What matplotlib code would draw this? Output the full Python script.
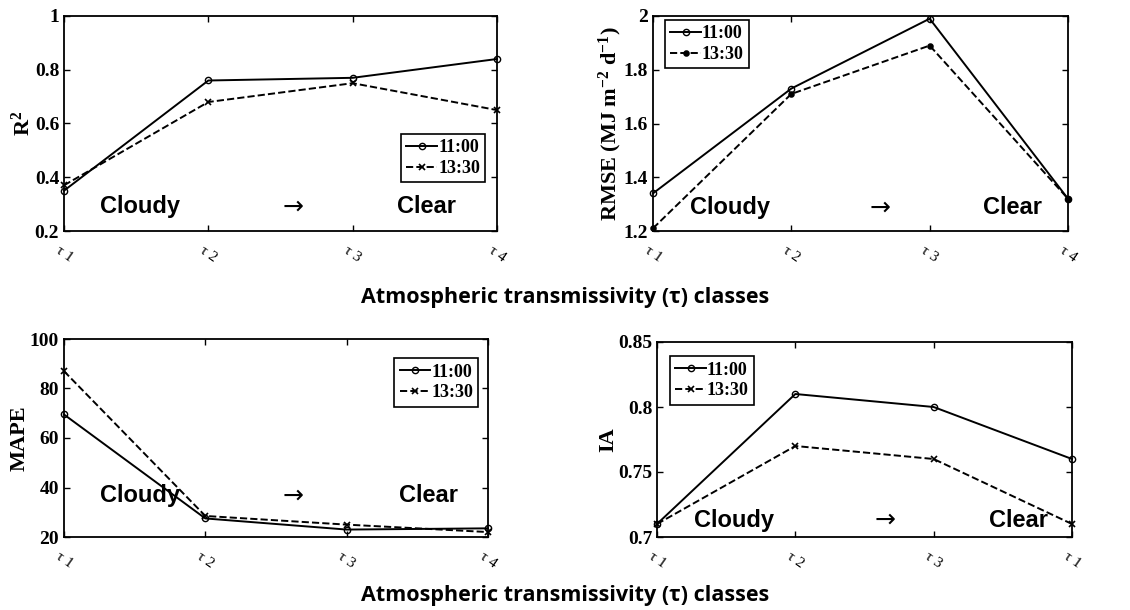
import matplotlib
matplotlib.use('Agg')
import matplotlib.pyplot as plt

classes = ['\u03c4 1', '\u03c4 2', '\u03c4 3', '\u03c4 4']
classes_ia = ['\u03c4 1', '\u03c4 2', '\u03c4 3', '\u03c4 1']
series = ['11:00', '13:30']

r2_1100 = [0.35, 0.76, 0.77, 0.84]
r2_1330 = [0.37, 0.68, 0.75, 0.65]
rmse_1100 = [1.34, 1.73, 1.99, 1.32]
rmse_1330 = [1.21, 1.71, 1.89, 1.32]
mape_1100 = [69.5, 27.5, 23.0, 23.5]
mape_1330 = [87.0, 28.5, 25.0, 22.0]
ia_1100 = [0.71, 0.81, 0.80, 0.76]
ia_1330 = [0.71, 0.77, 0.76, 0.71]

serif = 'Liberation Serif'
plt.rcParams['mathtext.fontset'] = 'custom'
plt.rcParams['mathtext.rm'] = 'Liberation Serif:bold'
plt.rcParams['mathtext.bf'] = 'Liberation Serif:bold'
plt.rcParams['mathtext.it'] = 'Liberation Serif:bold'

W, H = 1130, 610
fig = plt.figure(figsize=(W / 100, H / 100), dpi=100)


def box(l, t, r, b):
    return [l / W, 1 - b / H, (r - l) / W, (b - t) / H]


panels = [
    dict(rect=box(64, 16, 497, 231), y1=r2_1100, y2=r2_1330, ylab='R$^\\mathrm{2}$',
         ylim=(0.2, 1), ticks=[0.2, 0.4, 0.6, 0.8, 1], tl=['0.2', '0.4', '0.6', '0.8', '1'],
         m2='x', leg=(0.77, 0.21), xl=classes, txt=(0.083, 0.115, 0.53, 0.77)),
    dict(rect=box(653, 16, 1068, 231), y1=rmse_1100, y2=rmse_1330,
         ylab='RMSE (MJ m$^{\\mathrm{-2}}$ d$^{\\mathrm{-1}}$)',
         ylim=(1.2, 2), ticks=[1.2, 1.4, 1.6, 1.8, 2], tl=['1.2', '1.4', '1.6', '1.8', '2'],
         m2='.', leg=(0.02, 0.74), xl=classes, txt=(0.089, 0.11, 0.547, 0.795)),
    dict(rect=box(64, 339, 488, 537), y1=mape_1100, y2=mape_1330, ylab='MAPE',
         ylim=(20, 100), ticks=[20, 40, 60, 80, 100], tl=['20', '40', '60', '80', '100'],
         m2='x', leg=(0.77, 0.64), xl=classes, txt=(0.085, 0.21, 0.54, 0.79)),
    dict(rect=box(657, 342, 1072, 537), y1=ia_1100, y2=ia_1330, ylab='IA',
         ylim=(0.7, 0.85), ticks=[0.7, 0.75, 0.8, 0.85], tl=['0.7', '0.75', '0.8', '0.85'],
         m2='x', leg=(0.022, 0.66), xl=classes_ia, txt=(0.09, 0.087, 0.55, 0.80)),
]

x = [1, 2, 3, 4]
for p in panels:
    ax = fig.add_axes(p['rect'])
    ax.plot(x, p['y1'], '-', color='black', lw=1.4, marker='o', ms=4.5,
            mfc='none', mew=1.0, label=series[0], clip_on=False)
    ax.plot(x, p['y2'], '--', color='black', lw=1.4, marker=p['m2'],
            ms=4.5 if p['m2'] == 'x' else 7, mew=1.2, label=series[1],
            clip_on=False)
    ax.set_xlim(1, 4)
    ax.set_ylim(*p['ylim'])
    ax.set_xticks(x)
    ax.set_xticklabels(p['xl'], rotation=-35, ha='center', va='top',
                       fontfamily=serif, fontsize=11)
    ax.set_yticks(p['ticks'])
    ax.set_yticklabels(p['tl'], fontfamily=serif, fontweight='bold', fontsize=14)
    ax.tick_params(direction='in', top=True, right=True, length=4, width=1)
    ax.tick_params(axis='x', pad=9)
    for s in ax.spines.values():
        s.set_linewidth(1.3)
    ax.set_ylabel(p['ylab'], fontfamily=serif, fontweight='bold', fontsize=16,
                  labelpad=0)
    leg = ax.legend(loc='lower left', bbox_to_anchor=p['leg'], fancybox=False,
                    edgecolor='black', framealpha=1, handlelength=1.7,
                    handletextpad=0.05, borderpad=0.3, labelspacing=0.2,
                    borderaxespad=0.2,
                    prop=dict(family=serif, weight='bold', size=13))
    leg.get_frame().set_linewidth(1.2)
    cx, cy, ax_, clx = p['txt']
    ax.text(cx, cy, 'Cloudy', transform=ax.transAxes, fontfamily='Liberation Sans',
            fontweight='bold', fontsize=17, va='center', ha='left')
    ax.text(ax_, cy, '\u2192', transform=ax.transAxes, fontfamily='DejaVu Sans',
            fontsize=18, va='center', ha='center')
    ax.text(clx, cy, 'Clear', transform=ax.transAxes, fontfamily='Liberation Sans',
            fontweight='bold', fontsize=17, va='center', ha='left')

for yy in (298, 596):
    fig.text(565 / W, 1 - yy / H, 'Atmospheric transmissivity (\u03c4) classes',
             fontfamily='Open Sans', fontweight='bold', fontsize=15.5,
             ha='center', va='center')

fig.savefig('out.png', dpi=100)
